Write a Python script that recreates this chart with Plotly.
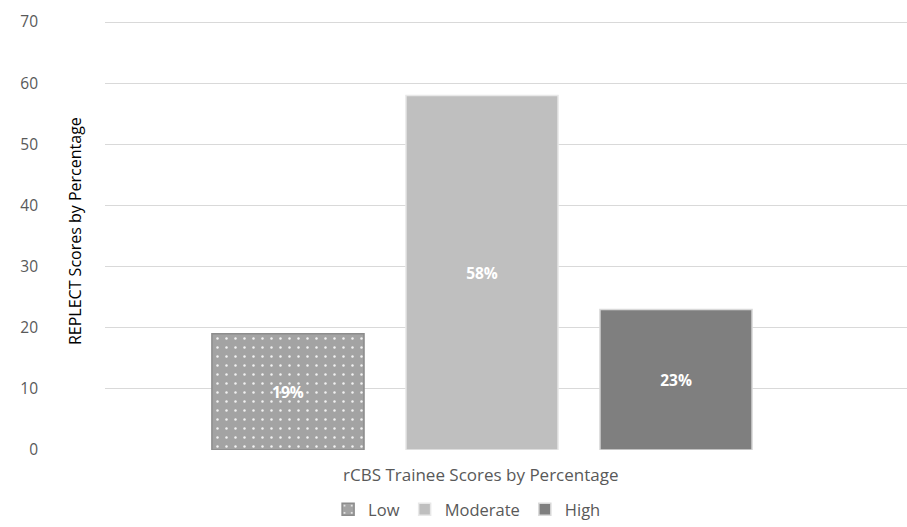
import plotly.graph_objects as go

categories = ["rCBS Trainee Scores by Percentage"]
series_names = ["Low", "Moderate", "High"]
series_values = [[19], [58], [23]]
series_labels = ["19%", "58%", "23%"]
y_ticks = [0, 10, 20, 30, 40, 50, 60, 70]
y_title = "REPLECT Scores by Percentage"

colors = ["#a3a3a3", "#bfbfbf", "#7f7f7f"]
line_colors = ["#8c8c8c", "#e8e8e8", "#d9d9d9"]
FONT = "Open Sans, Carlito, Calibri, sans-serif"
TXT = "#595959"

fig = go.Figure()
for i, name in enumerate(series_names):
    marker = dict(color=colors[i], line=dict(color=line_colors[i], width=1.5))
    if name == "Low":
        marker["pattern"] = dict(shape=".", fgcolor="#f2f2f2", bgcolor=colors[i],
                                 size=9, solidity=0.06, fillmode="replace")
    fig.add_trace(go.Bar(
        name=name, x=[0], y=series_values[i],
        text=[series_labels[i]], textposition="inside", insidetextanchor="middle",
        textfont=dict(color="white", size=15.5, family=FONT, weight="bold"),
        marker=marker,
    ))

fig.update_layout(
    width=907, height=527,
    margin=dict(l=105, r=0, t=19, b=77),
    paper_bgcolor="white", plot_bgcolor="white",
    barmode="group", bargap=0.228, bargroupgap=0.216,
    font=dict(family=FONT, color=TXT, size=15),
    showlegend=True,
    legend=dict(orientation="h", x=0.515, xanchor="center", xref="container",
                y=0.0, yanchor="bottom", yref="container",
                font=dict(size=16.5, color=TXT), itemwidth=30,
                traceorder="normal", tracegroupgap=0),
    xaxis=dict(range=[-0.5, 0.5637], tickvals=[], showgrid=False, zeroline=False,
               showline=False, fixedrange=True),
    yaxis=dict(range=[0, 70.5], tickvals=y_ticks, showgrid=True, gridcolor="#d9d9d9",
               gridwidth=1, zeroline=False, ticklabelstandoff=66,
               tickfont=dict(size=15.5, color=TXT)),
    annotations=[
        dict(text=y_title, textangle=-90, xref="paper", yref="paper",
             x=-0.0374, y=0.508, xanchor="center", yanchor="middle",
             showarrow=False, font=dict(size=16, color="#000000")),
        dict(text=categories[0], xref="paper", yref="paper",
             x=0.469, y=-0.058, xanchor="center", yanchor="middle",
             showarrow=False, font=dict(size=17, color=TXT)),
    ],
)

fig.write_html("out.html")
